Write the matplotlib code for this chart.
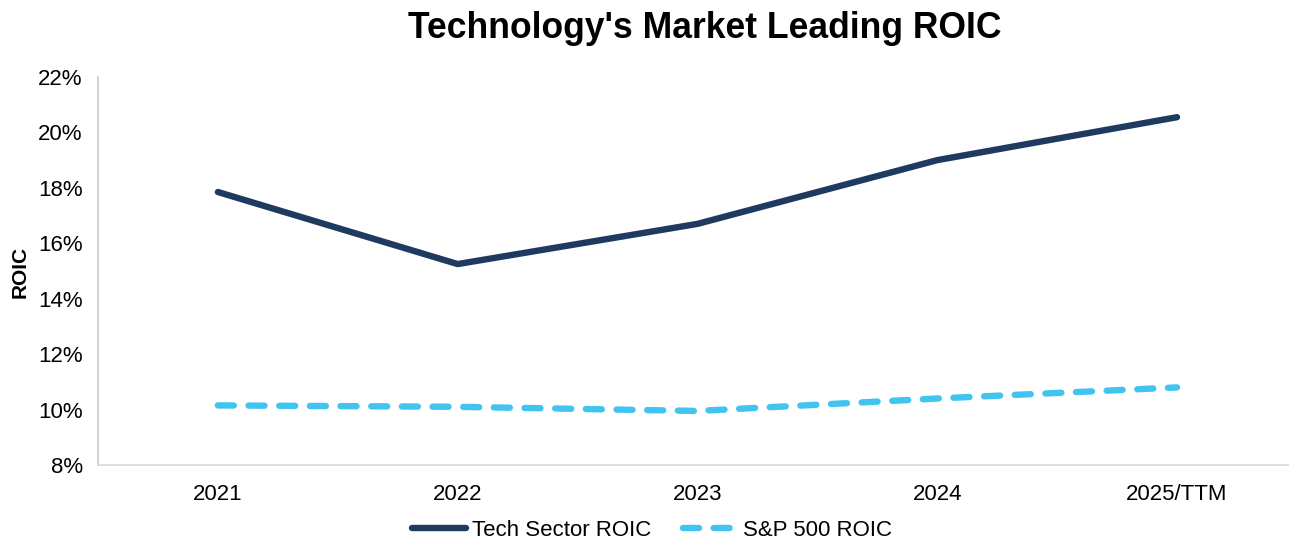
import matplotlib.pyplot as plt
from matplotlib.ticker import FuncFormatter

plt.rcParams['font.family'] = ['Liberation Sans', 'DejaVu Sans']

years = ['2021', '2022', '2023', '2024', '2025/TTM']
tech_roic = [17.85, 15.25, 16.7, 19.0, 20.55]
sp500_roic = [10.15, 10.1, 9.95, 10.4, 10.8]

fig = plt.figure(figsize=(12.89, 5.42), dpi=100)
ax = fig.add_axes([98 / 1289, 1 - 465 / 542, 1 - 98 / 1289, (465 - 77) / 542])

x = range(len(years))
ax.plot(x, tech_roic, color='#1F3A5F', lw=4.6, solid_capstyle='round',
        label='Tech Sector ROIC')
ax.plot(x, sp500_roic, color='#41C4F0', lw=4.6, linestyle=(0, (2.5, 2.3)),
        dash_capstyle='round', label='S&P 500 ROIC')

ax.set_xlim(-0.5, 4.467)
ax.set_ylim(8, 22)
ax.set_yticks(range(8, 23, 2))
ax.yaxis.set_major_formatter(FuncFormatter(lambda v, p: f'{v:.0f}%'))
ax.set_xticks(list(x))
ax.set_xticklabels(years)
ax.tick_params(length=0, labelsize=16, colors='black')
ax.tick_params(axis='x', pad=14)
ax.tick_params(axis='y', pad=11)

for s in ['top', 'right']:
    ax.spines[s].set_visible(False)
ax.spines['left'].set_color('#C8C8C8')
ax.spines['bottom'].set_color('#D9D9D9')
ax.spines['left'].set_linewidth(1.2)
ax.spines['bottom'].set_linewidth(1.2)

fig.text(20 / 1289, 1 - 272 / 542, 'ROIC', rotation=90, ha='center', va='center',
         fontsize=15, fontweight='bold')
fig.text(705 / 1289, 1 - 29 / 542, "Technology's Market Leading ROIC", ha='center',
         va='center', fontsize=25.6, fontweight='bold')

fig.legend(loc='center', bbox_to_anchor=(652 / 1289, 1 - 530 / 542), ncol=2,
           frameon=False, fontsize=16, handlelength=2.4, columnspacing=1.4,
           handletextpad=0.3)

plt.savefig('out.png', dpi=100)
